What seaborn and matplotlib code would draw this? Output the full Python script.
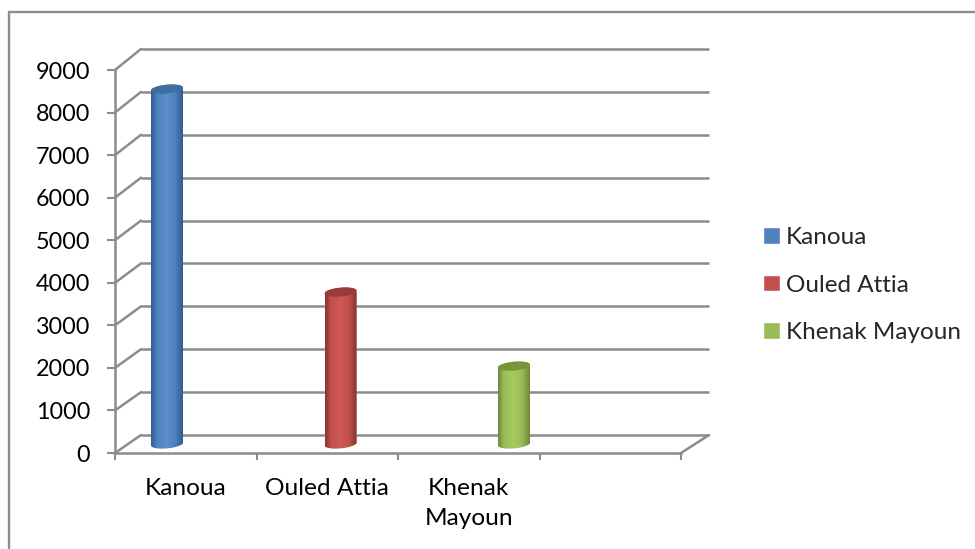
import numpy as np
import pandas as pd
import matplotlib
matplotlib.use("Agg")
import matplotlib.pyplot as plt
from matplotlib.colors import LinearSegmentedColormap
from matplotlib.lines import Line2D
from matplotlib.patches import ConnectionPatch, PathPatch
from matplotlib.path import Path
import seaborn as sns

# Chart values
communes = ["Kanoua", "Ouled Attia", "Khenak Mayoun"]
effectifs = [8340, 3570, 1830]
axis_labels = ["Kanoua", "Ouled Attia", "Khenak\nMayoun"]
y_ticks = list(range(0, 10000, 1000))

# Series colours: legend colour, then edge, highlight and cap shades of the cylinders
legend_colors = ["#4f81bd", "#c0504d", "#9bbb59"]
edge_colors = ["#2f5d90", "#8a3230", "#6f8a38"]
light_colors = ["#5c8ecb", "#cf5855", "#a9cb5e"]
cap_colors = ["#3f6d9f", "#983b39", "#789638"]
grid_color = "#8c8c8c"

W, H = 975, 549
sns.set_style("white")
plt.rcParams["font.family"] = ["Lato", "DejaVu Sans"]
fig = plt.figure(figsize=(W / 100, H / 100), dpi=100)


def px_axes(left, right, bottom, top):
    return fig.add_axes([left / W, 1 - bottom / H, (right - left) / W, (bottom - top) / H])


# Sheet outline running off the right and bottom edges
fig.add_artist(Line2D([9 / W, 9 / W, 1], [0, 1 - 12 / H, 1 - 12 / H],
                      color=grid_color, lw=1.7, solid_joinstyle="miter"))

# Back wall carrying the horizontal grid
back = px_axes(141, 709, 435, 49)
back.set_xlim(0, 4)
back.set_ylim(0, 9000)
back.set_axis_off()
back.hlines(y_ticks, 0, 4, color=grid_color, lw=1.8, clip_on=False)

# Front plane of the axes
ax = px_axes(115, 681, 453, 70)
ax.set_xlim(0, 4)
ax.set_ylim(0, 9000)
ax.patch.set_alpha(0)
for name in ("top", "right"):
    ax.spines[name].set_visible(False)
for name in ("left", "bottom"):
    ax.spines[name].set_color(grid_color)
    ax.spines[name].set_linewidth(1.8)
ax.set_yticks(y_ticks)
ax.set_xticks(range(5))
ax.set_xticklabels([])
ax.set_xticks([0.5, 1.5, 2.5], labels=axis_labels, minor=True)
ax.tick_params(axis="y", length=6, width=1.5, color=grid_color, labelsize=16.8,
               labelcolor="black", pad=12, left=True)
ax.tick_params(axis="x", which="major", length=5, width=1.5, color=grid_color, bottom=True)
ax.tick_params(axis="x", which="minor", length=0, labelsize=17.6, labelcolor="black", pad=18)
for label in ax.get_xticklabels(minor=True):
    label.set_linespacing(1.55)

# Wall and floor edges joining the front plane to the back wall
for v in y_ticks:
    fig.add_artist(ConnectionPatch((0, v), (0, v), "data", "data", axesA=ax, axesB=back,
                                   color=grid_color, lw=1.8))
fig.add_artist(ConnectionPatch((4, 0), (4, 0), "data", "data", axesA=ax, axesB=back,
                               color=grid_color, lw=1.8))

# Bars stand mid-floor, spaced independently of the category ticks
unit = 9000 / 383
floor_margin = 16 * unit
bar_ax = px_axes(115, 681, 460, 61)
bar_ax.patch.set_alpha(0)
frame = pd.DataFrame({"commune": communes, "effectif": effectifs})
sns.barplot(data=frame, x="commune", y="effectif", hue="commune", order=communes,
            hue_order=communes, palette=legend_colors, width=32 / 173.5, dodge=False,
            legend=True, ax=bar_ax, saturation=1)
x_limits = ((115 - 167) / 173.5, (681 - 167) / 173.5)
y_limits = (-floor_margin, 9000)
bar_ax.set_axis_off()

cap_b = 4.4 * unit
cap_tilt = 1.4 * unit
t = np.linspace(0, 2 * np.pi, 121)


def rim(cx, half, level, angles):
    return np.column_stack([cx + half * np.cos(angles),
                            level + cap_b * np.sin(angles) + cap_tilt * np.cos(angles)])


bars = [p for p in bar_ax.patches if p.get_height() > 0]
for i, bar in enumerate(sorted(bars, key=lambda p: p.get_x())):
    x0, w, h = bar.get_x(), bar.get_width(), bar.get_height()
    cx, half = x0 + w / 2, w / 2
    lower = rim(cx, half, 0, np.linspace(np.pi, 2 * np.pi, 61))
    upper = rim(cx, half, h, np.linspace(0, np.pi, 61))
    outline = Path(np.vstack([lower, upper, lower[:1]]), closed=True)
    silhouette = PathPatch(outline, transform=bar_ax.transData, fc="none", ec="none")
    bar_ax.add_patch(silhouette)
    bar.set_clip_path(silhouette)
    cmap = LinearSegmentedColormap.from_list(
        f"cyl{i}", [(0, edge_colors[i]), (0.18, legend_colors[i]), (0.48, light_colors[i]),
                    (0.75, legend_colors[i]), (1, edge_colors[i])])
    body = bar_ax.imshow(np.linspace(0, 1, 64)[None, :], cmap=cmap, aspect="auto",
                         extent=(x0, x0 + w, -floor_margin, h + cap_b + cap_tilt),
                         interpolation="bilinear", zorder=3)
    body.set_clip_path(silhouette)
    bar_ax.fill(*rim(cx, half, h, t).T, color=cap_colors[i], zorder=4, clip_on=False, lw=0)
bar_ax.set_xlim(*x_limits)
bar_ax.set_ylim(*y_limits)

# Legend beside the plot
sns.move_legend(bar_ax, "center left", bbox_to_anchor=(763 / W, 1 - 285 / H),
                bbox_transform=fig.transFigure, frameon=False, title=None, fontsize=17.5,
                handlelength=0.68, handleheight=0.68, handletextpad=0.26, labelspacing=1.08,
                borderpad=0, borderaxespad=0)

fig.savefig("out.png", dpi=100, facecolor="white")
